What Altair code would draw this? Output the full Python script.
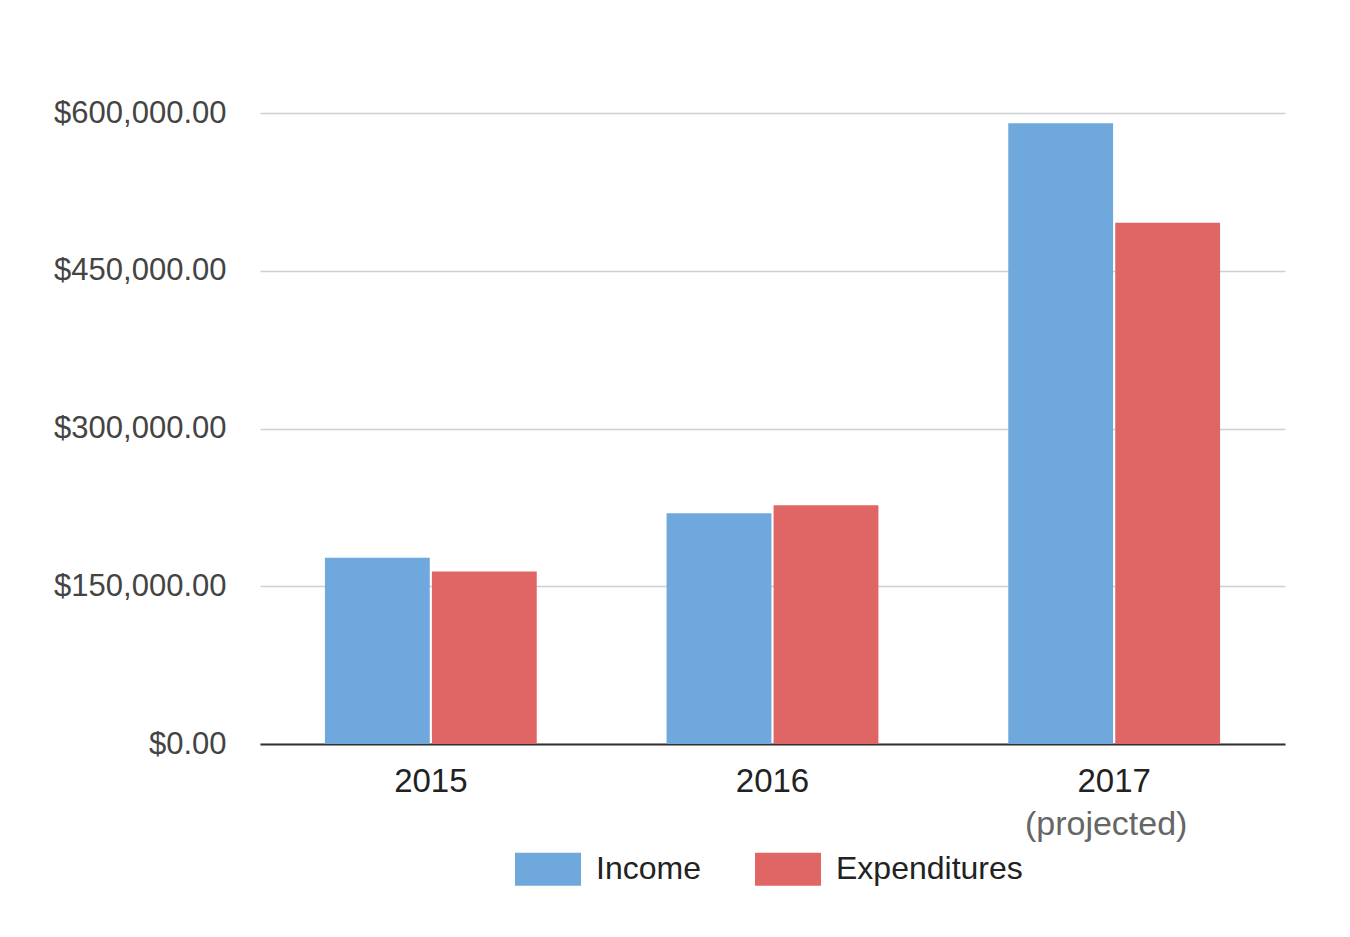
import altair as alt
import pandas as pd

years = ["2015", "2016", "2017"]
income = [177000, 219500, 590300]
expenditures = [164000, 227000, 495600]
series = ["Income", "Expenditures"]
colors = ["#6fa8dc", "#e06666"]
y_ticks = [0, 150000, 300000, 450000, 600000]

rows = []
for i, yr in enumerate(years):
    rows.append({"year": yr, "series": "Income", "value": income[i]})
    rows.append({"year": yr, "series": "Expenditures", "value": expenditures[i]})
df = pd.DataFrame(rows)

FONT = "Liberation Sans"
x_scale = alt.Scale(paddingInner=0.38, paddingOuter=0.19)

bars = alt.Chart(df).mark_bar().encode(
    x=alt.X("year:N", sort=years, scale=x_scale, title=None,
            axis=alt.Axis(orient="bottom", labelAngle=0, labelFontSize=33,
                          labelColor="#222222", labelPadding=21, ticks=False,
                          domain=True, domainColor="#333333", domainWidth=2,
                          grid=False, labelFont=FONT)),
    xOffset=alt.XOffset("series:N", sort=series,
                        scale=alt.Scale(paddingInner=0.02, paddingOuter=0)),
    y=alt.Y("value:Q", scale=alt.Scale(domain=[0, 600000], nice=False), title=None,
            axis=alt.Axis(values=y_ticks, format="$,.2f", labelFontSize=31,
                          labelColor="#444444", labelPadding=34, domain=False,
                          ticks=False, gridColor="#cfcfcf", gridWidth=1.5,
                          labelFont=FONT)),
    color=alt.Color("series:N", sort=series,
                    scale=alt.Scale(domain=series, range=colors),
                    legend=alt.Legend(title=None, orient="none", direction="horizontal",
                                      legendX=255, legendY=723, padding=0,
                                      symbolType="M-1,-0.5H1V0.5H-1Z", symbolSize=4356,
                                      symbolStrokeWidth=0, symbolOpacity=1,
                                      labelFontSize=32, labelColor="#222222",
                                      labelFont=FONT, labelOffset=15,
                                      columnPadding=54, labelLimit=400)),
)

proj = alt.Chart(df).mark_bar(opacity=0).encode(
    x=alt.X("year:N", sort=years, scale=x_scale, title=None,
            axis=alt.Axis(orient="bottom", labelAngle=0, labelFontSize=34,
                          labelColor="#666666", labelPadding=71, ticks=False,
                          domain=False, grid=False, labelFont=FONT, translate=-7.5,
                          labelExpr="datum.value == '2017' ? '(projected)' : ''")),
)

chart = alt.layer(bars, proj).resolve_axis(x="independent").properties(
    width=1025, height=631,
    autosize=alt.AutoSizeParams(type="none"),
    padding={"left": 260, "top": 113, "right": 65, "bottom": 193},
    background="white",
).configure_view(stroke=None)

chart.save("out.html", embed_options={"renderer": "svg", "actions": False})
